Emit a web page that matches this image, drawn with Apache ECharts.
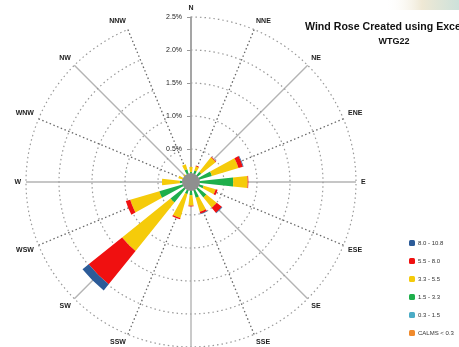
<!DOCTYPE html>
<html><head><meta charset="utf-8">
<script src="https://cdn.jsdelivr.net/npm/echarts@6/dist/echarts.min.js"></script>
<style>html,body{margin:0;padding:0;background:#fff}#c{width:459px;height:347px}</style>
</head><body><div id="c"></div>
<script>
const directions = ['N','NNE','NE','ENE','E','ESE','SE','SSE','S','SSW','SW','WSW','W','WNW','NW','NNW'];
const mainDirections = ['N','NE','E','SE','S','SW','W','NW'];
const radiusTicks = [0, 0.5, 1.0, 1.5, 2.0, 2.5];
// percentage frequency per speed class (m/s), stacked from the centre outwards
const calmsLt03 = [0,0,0,0,0,0,0,0,0,0,0,0,0,0,0,0];
const s03_15 = [0.03,0.03,0.03,0.03,0.03,0.03,0.03,0.03,0.03,0.03,0.03,0.03,0.03,0.03,0.03,0.03];
const s15_33 = [0.12,0.15,0.17,0.30,0.61,0.17,0.27,0.22,0.17,0.16,0.37,0.47,0.14,0.10,0.08,0.17];
const s33_55 = [0.08,0.07,0.28,0.42,0.22,0.19,0.20,0.22,0.16,0.38,0.94,0.46,0.27,0.07,0.04,0.08];
const s55_80 = [0,0.01,0.01,0.07,0.01,0.03,0.10,0.03,0.01,0.02,0.65,0.07,0,0,0,0];
const s80_108 = [0,0,0,0.01,0,0,0.01,0.01,0,0,0.12,0,0,0,0,0];
const hubValue = [1];
const legendNames = ['8.0 - 10.8','5.5 - 8.0','3.3 - 5.5','1.5 - 3.3','0.3 - 1.5','CALMS < 0.3'];
const titleLine1 = 'Wind Rose Created using Excel';
const titleLine2 = 'WTG22';

const chart = echarts.init(document.getElementById('c'), null, {renderer:'canvas'});
const C = [191,182], R = 165;
function bar(name, data, color){
  return {type:'bar', coordinateSystem:'polar', polarIndex:0, stack:'w', name, data,
    barWidth:'55%', itemStyle:{color}, emphasis:{disabled:true}, z:3};
}
chart.setOption({
  animation:false,
  backgroundColor:'#ffffff',
  graphic:[{type:'rect', shape:{x:385,y:0,width:74,height:10}, silent:true, z:-1,
    style:{fill:new echarts.graphic.LinearGradient(0,0,1,0,[{offset:0,color:'rgba(255,255,255,0)'},{offset:0.5,color:'rgba(236,228,205,0.85)'},{offset:1,color:'rgba(196,220,212,0.85)'}])}}],
  title:[
    {text:titleLine1, left:305, top:22, padding:0,
     textStyle:{fontFamily:'Liberation Sans', fontSize:10.6, fontWeight:'bold', color:'#111'}},
    {text:titleLine2, left:394, top:37, padding:0, textAlign:'center',
     textStyle:{fontFamily:'Liberation Sans', fontSize:9, fontWeight:'bold', color:'#111'}}
  ],
  legend:{orient:'vertical', left:409, top:239, padding:0, itemWidth:6, itemHeight:6, itemGap:10,
    data:legendNames, selectedMode:false,
    textStyle:{fontFamily:'Liberation Sans', fontSize:6, color:'#333', lineHeight:8, padding:[0,0,0,-2]}},
  polar:[{center:C, radius:R},{center:C, radius:R}],
  angleAxis:[
    {polarIndex:0, type:'category', data:directions, startAngle:90, clockwise:true, boundaryGap:false,
     axisLine:{show:false}, axisTick:{show:false},
     axisLabel:{fontFamily:'Liberation Sans', fontSize:7, fontWeight:'bold', color:'#222', margin:5},
     splitLine:{show:true, lineStyle:{type:[1.5,2.5], width:1.3, color:['rgba(0,0,0,0)','#666']}}, z:1},
    {polarIndex:1, type:'category', data:mainDirections, startAngle:90, clockwise:true, boundaryGap:false,
     axisLine:{show:false}, axisTick:{show:false}, axisLabel:{show:false},
     splitLine:{show:true, lineStyle:{type:'solid', width:1.4, color:'#b4b4b4'}}, z:1}
  ],
  radiusAxis:[
    {polarIndex:0, type:'value', min:radiusTicks[0], max:radiusTicks[radiusTicks.length-1], interval:0.5,
     axisLine:{show:true, lineStyle:{color:'#999', width:1.5}},
     axisTick:{show:true, length:4, lineStyle:{color:'#999'}},
     axisLabel:{fontFamily:'Liberation Sans', fontSize:7, color:'#222', margin:9,
       formatter:v=> v===0 ? '' : v.toFixed(1)+'%'},
     splitLine:{show:true, lineStyle:{type:[1.5,3], color:'#999', width:1.2}}, z:2},
    {polarIndex:1, type:'value', min:0, max:2.5, axisLine:{show:false}, axisTick:{show:false},
     axisLabel:{show:false}, splitLine:{show:false}}
  ],
  series:[
    bar(legendNames[4], s03_15, '#4BACC6'),
    bar(legendNames[3], s15_33, '#1EAF4B'),
    bar(legendNames[2], s33_55, '#F5CB0A'),
    bar(legendNames[1], s55_80, '#F01010'),
    bar(legendNames[0], s80_108, '#2C5B98'),
    bar(legendNames[5], calmsLt03, '#F08A2C'),
    {type:'pie', name:'hub', center:C, radius:[0,9], silent:true, z:5, label:{show:false},
     labelLine:{show:false}, data:hubValue.map(v=>({value:v, itemStyle:{color:'#8f8f8f'}}))}
  ]
});
</script></body></html>
